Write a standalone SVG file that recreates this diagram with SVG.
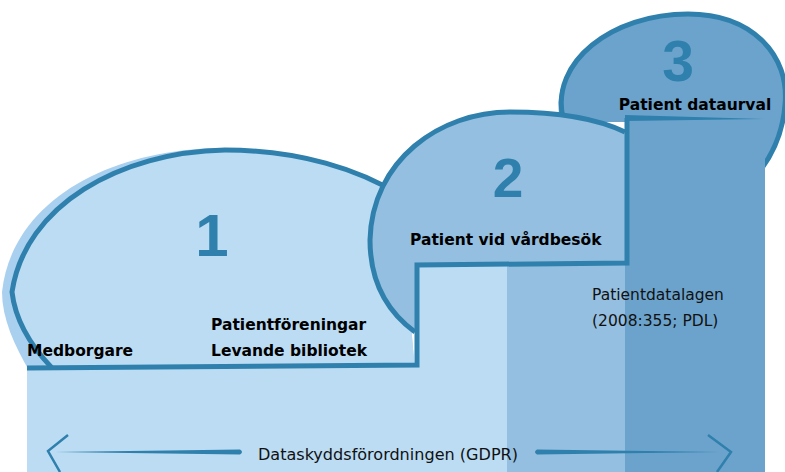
<svg xmlns="http://www.w3.org/2000/svg" width="785" height="472" viewBox="0 0 785 472">
<style>
.st{fill:none;stroke:#2F80AC;stroke-width:5;stroke-linejoin:miter}
.num{font-family:"Liberation Sans",Arial,sans-serif;font-weight:bold;fill:#2F80AC;text-anchor:middle}
.lb{font-family:"DejaVu Sans",Verdana,sans-serif;font-weight:bold;font-size:15.5px;fill:#000}
.rg{font-family:"DejaVu Sans",Verdana,sans-serif;font-size:15.5px;fill:#111}
</style>
<rect width="785" height="472" fill="#fff"/>
<g id="step3">
<path d="M560,122 C548,62 612,14 688,14 C752,14 790,55 785,105 C783,130 775,150 762,168 L765,472 L625,472 L625,122 Z" fill="#6CA3CC"/>
<path d="M563,118 C550,62 612,14 688,14 C752,14 790,55 785,105 C783,130 775,150 762,168" class="st" stroke-width="5"/>
</g>
<g id="step1">
<path d="M30,372 C14,345 2,318 2,292 C12,200 110,150 218,148 C300,148 360,170 400,195 L415,372 Z" fill="#A9D0EF"/>
<path d="M50,372 C30,345 15,318 12,292 C25,205 120,152 225,150 C300,150 360,170 400,195 L415,372 Z" fill="#BBDCF3"/>
<path d="M52,368 C30,345 15,318 12,292 C25,205 120,152 225,150 C300,150 360,170 400,195" class="st"/>
</g>
<g id="step2">
<path d="M415,332 C385,310 370,280 370,240 C372,160 440,112 510,112 C560,112 600,120 625,132 L625,265 L415,265 Z" fill="#94BFE0"/>
<path d="M415,332 C385,310 370,280 370,240 C372,160 440,112 510,112 C560,112 600,120 625,132" class="st"/>
</g>
<g id="bands">
<rect x="27" y="367" width="480" height="105" fill="#BBDCF3"/>
<rect x="415" y="264" width="92" height="110" fill="#BBDCF3"/>
<rect x="507" y="264" width="118" height="208" fill="#94BFE0"/>
<rect x="625" y="118" width="140" height="354" fill="#6CA3CC"/>
</g>
<g id="connectors">
<path d="M27,368 L417,365 L417,265 L627,263 L627,118" class="st"/>
<path d="M625,115 L765,119 L625,121 Z" fill="#2F80AC"/>
<path d="M55,452 L240,449.5 Q244,452 240,454.5 Z" fill="#2F80AC"/>
<path d="M537,449.5 L720,452 L537,454.5 Q533,452 537,449.5 Z" fill="#2F80AC"/>
<path d="M68,435 L48,451 L60,472" fill="none" stroke="#2F80AC" stroke-width="2.5"/>
<path d="M708,435 L731,452 L717,472" fill="none" stroke="#2F80AC" stroke-width="2.5"/>
</g>
<g id="labels">
<text class="num" x="212" y="256" font-size="60">1</text>
<text class="num" x="508" y="197" font-size="55">2</text>
<text class="num" x="678" y="81" font-size="57">3</text>
<text class="lb" x="695" y="110" text-anchor="middle">Patient dataurval</text>
<text class="lb" x="410" y="245">Patient vid vårdbesök</text>
<text class="lb" x="211" y="330">Patientföreningar</text>
<text class="lb" x="211" y="356">Levande bibliotek</text>
<text class="lb" x="27" y="356">Medborgare</text>
<text class="rg" x="592" y="300">Patientdatalagen</text>
<text class="rg" x="592" y="326">(2008:355; PDL)</text>
<text x="258" y="460" font-family="'DejaVu Sans Condensed','DejaVu Sans',sans-serif" font-size="16" fill="#111" textLength="260" lengthAdjust="spacingAndGlyphs">Dataskyddsförordningen (GDPR)</text>
</g>
</svg>
